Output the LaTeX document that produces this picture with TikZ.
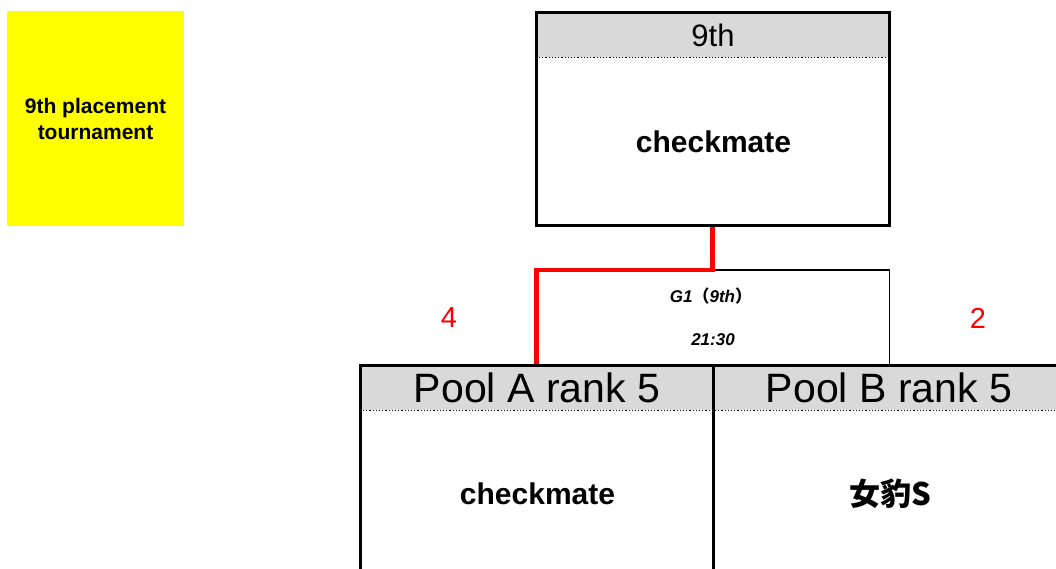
\documentclass[tikz,border=0pt]{standalone}
\usepackage{fontspec}
\setmainfont{Liberation Sans}
\newfontfamily\cjk{Noto Sans CJK JP}
\definecolor{hdrgray}{HTML}{D9D9D9}
\definecolor{ylw}{HTML}{FFFF00}
\begin{document}
\begin{tikzpicture}[x=1pt,y=-1pt,
  hdr/.style={fill=hdrgray, inner sep=0pt, anchor=north},
  boxline/.style={draw=black, line width=3pt, inner sep=0pt},
  dotline/.style={line width=1.2pt, dotted},
  teamtxt/.style={font=\fontsize{30}{30}\selectfont\bfseries, inner sep=0pt},
  toptxt/.style={font=\fontsize{31}{31}\selectfont, inner sep=0pt},
  pooltxt/.style={font=\fontsize{41}{41}\selectfont, inner sep=0pt},
  gametxt/.style={font=\fontsize{17}{17}\selectfont\bfseries\itshape, inner sep=0pt},
  score/.style={font=\fontsize{29}{29}\selectfont, text=red, inner sep=0pt},
  winline/.style={draw=red, line width=4.5pt},
  plainline/.style={draw=black, line width=1.5pt}]
\useasboundingbox (0,0) rectangle (1056,569);
\clip (0,0) rectangle (1056,569);
% legend
\node[fill=ylw, minimum width=177pt, minimum height=215pt, inner sep=0pt,
  align=center, font=\fontsize{21}{26}\selectfont\bfseries] (legend) at (95.5,118.5)
  {9th placement\\tournament};
% top box
\node[hdr, minimum width=353pt, minimum height=46pt] (toph) at (712.5,11) {};
\node[boxline, minimum width=353pt, minimum height=213pt, anchor=north] (top) at (712.5,11) {};
\draw[dotline] (toph.south west) -- (toph.south east);
\node[toptxt] (toplabel) at (713,35) {9th};
\node[teamtxt] (topteam) at (713.5,142) {checkmate};
% bottom boxes
\node[hdr, minimum width=353pt, minimum height=46pt] (pah) at (536.5,364) {};
\node[hdr, minimum width=353pt, minimum height=46pt] (pbh) at (889.5,364) {};
\node[boxline, minimum width=353pt, minimum height=260pt, anchor=north] (pa) at (536.5,364) {};
\node[boxline, minimum width=353pt, minimum height=260pt, anchor=north] (pb) at (889.5,364) {};
\draw[dotline] (pah.south west) -- (pbh.south east);
\node[pooltxt] (palabel) at (537,388) {Pool A rank 5};
\node[pooltxt] (pblabel) at (889,388) {Pool B rank 5};
\node[teamtxt] (pateam) at (537.5,494) {checkmate};
\node[inner sep=0pt, font=\fontsize{31}{31}\selectfont\cjk\bfseries] (pbteam) at (890,494) {女豹S};
% connectors
\coordinate (j) at (712.5,270);
\draw[plainline] (j) -| (pb.north);
\draw[winline] (top.south) -- (j) -| (pa.north);
\node[gametxt] (gname) at (711,296) {G1{\cjk\bfseries（}9th{\cjk\bfseries）}};
\node[gametxt] (gtime) at (713,340) {21:30};
\node[score] (sa) at (449,318) {4};
\node[score] (sb) at (978,318) {2};
\end{tikzpicture}
\end{document}
